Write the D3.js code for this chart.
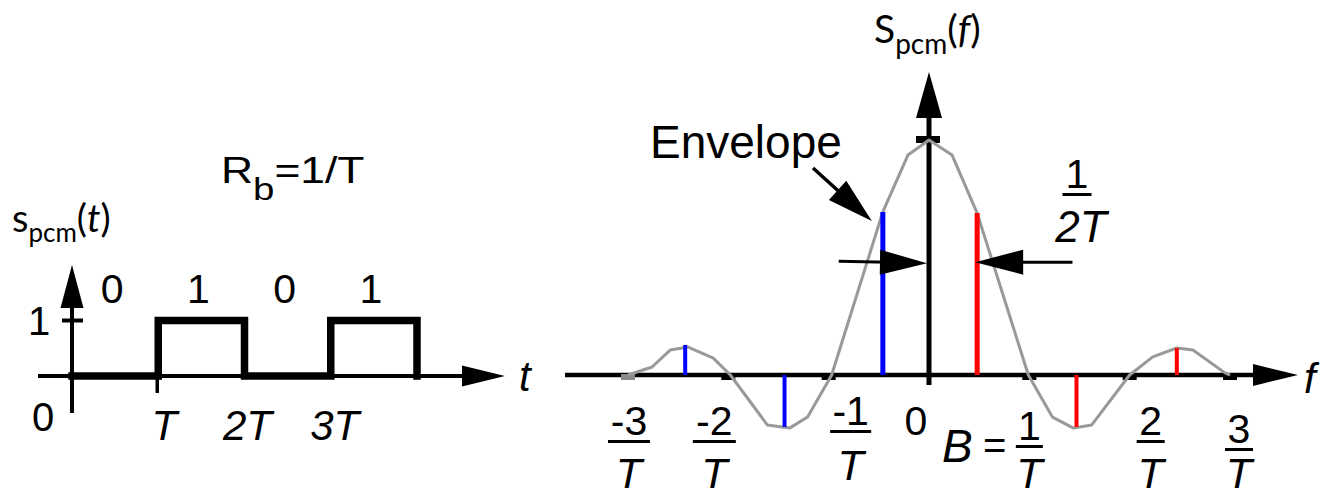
<!DOCTYPE html>
<html>
<head>
<meta charset="utf-8">
<script src="https://cdn.jsdelivr.net/npm/d3@7"></script>
<style>
  html, body { margin: 0; padding: 0; background: #fff; }
  svg { display: block; }
</style>
</head>
<body>
<svg id="chart" width="1320" height="497"></svg>
<script>
// ---- PCM time signal: one bit per interval T ----
const bits = [0, 1, 0, 1];
const bitLabels = ["0", "1", "0", "1"];
const timeTickLabels = ["T", "2T", "3T"];
const levelTickLabels = ["0", "1"];

// ---- Spectrum envelope vertices (frequency in 1/T, amplitude relative to peak) ----
const envFreq = [-3.0, -2.76, -2.58, -2.40, -2.15, -1.98, -1.61, -1.39, -1.21, -0.97, -0.46, -0.21, 0,
                 0.23, 0.48, 0.99, 1.23, 1.44, 1.62, 2.0, 2.23, 2.47, 2.63, 2.95, 3.0];
const envAmp  = [0, 0.034, 0.106, 0.119, 0.072, 0, -0.213, -0.226, -0.179, 0, 0.694, 0.936, 1,
                 0.936, 0.689, 0, -0.179, -0.226, -0.213, 0, 0.077, 0.115, 0.106, 0.009, 0];

// ---- Spectral lines ----
const negLineFreq = [-2.43, -1.44, -0.46];
const negLineAmp  = [0.128, -0.221, 0.694];
const posLineFreq = [0.48, 1.47, 2.47];
const posLineAmp  = [0.689, -0.221, 0.115];

// ---- Frequency axis nulls and labels ----
const nullFreq = [-3, -2, -1, 1, 2, 3];
const freqNumerators = ["-3", "-2", "-1", "1", "2", "3"];

const svg = d3.select("#chart");
const numFont = "'Liberation Sans', Arial, sans-serif";
const calFont = "Lato, 'Open Sans', sans-serif";

function arrowHead(g, tip, dir, len, half) {
  const [tx, ty] = tip;
  const n = Math.hypot(dir[0], dir[1]);
  const ux = dir[0] / n, uy = dir[1] / n;
  const bx = tx - ux * len, by = ty - uy * len;
  const px = -uy, py = ux;
  g.append("path")
    .attr("d", `M${tx},${ty}L${bx + px * half},${by + py * half}L${bx - px * half},${by - py * half}Z`)
    .attr("fill", "#000");
}

// =================== Time-domain panel ===================
const xT = d3.scaleLinear().domain([0, 4]).range([72, 417]);
const yT = d3.scaleLinear().domain([0, 1]).range([376, 320.5]);
const gT = svg.append("g");

// horizontal axis
gT.append("line").attr("x1", 38).attr("x2", 470).attr("y1", yT(0)).attr("y2", yT(0))
  .attr("stroke", "#000").attr("stroke-width", 4);
arrowHead(gT, [505, yT(0)], [1, 0], 43, 10.5);
// vertical axis
gT.append("line").attr("x1", xT(0)).attr("x2", xT(0)).attr("y1", 413).attr("y2", 300)
  .attr("stroke", "#000").attr("stroke-width", 4);
arrowHead(gT, [xT(0), 265], [0, -1], 43, 11.5);
// level tick at 1
gT.append("line").attr("x1", xT(0) - 10).attr("x2", xT(0) + 11).attr("y1", yT(1)).attr("y2", yT(1))
  .attr("stroke", "#000").attr("stroke-width", 4);
// tick at T
gT.append("line").attr("x1", xT(1) - 1).attr("x2", xT(1) - 1).attr("y1", 360).attr("y2", 393)
  .attr("stroke", "#000").attr("stroke-width", 3.5);

// NRZ waveform
const wave = [];
bits.forEach((b, i) => { wave.push([i, b]); wave.push([i + 1, b]); });
wave.push([bits.length, 0]);
gT.append("path")
  .attr("d", d3.line().x(d => xT(d[0])).y(d => yT(d[1]))(wave))
  .attr("fill", "none").attr("stroke", "#000").attr("stroke-width", 7.5)
  .attr("stroke-linejoin", "miter").attr("stroke-linecap", "square");

// bit values above each interval
gT.selectAll("text.bit").data(bitLabels).join("text")
  .attr("x", (d, i) => xT(i + 0.5) - 3).attr("y", 303)
  .attr("text-anchor", "middle").attr("font-family", numFont).attr("font-size", 41)
  .text(d => d);

// level labels
gT.append("text").attr("x", 39).attr("y", 335).attr("text-anchor", "middle")
  .attr("font-family", numFont).attr("font-size", 40).text(levelTickLabels[1]);
gT.append("text").attr("x", 43).attr("y", 431).attr("text-anchor", "middle")
  .attr("font-family", numFont).attr("font-size", 40).text(levelTickLabels[0]);

// time tick labels
gT.selectAll("text.tt").data(timeTickLabels).join("text")
  .attr("x", (d, i) => xT(i + 1) + [6, 3, 4][i]).attr("y", 440)
  .attr("text-anchor", "middle").attr("font-family", numFont).attr("font-style", "italic")
  .attr("font-size", 42).text(d => d);

// axis name t
gT.append("text").attr("x", 519).attr("y", 391).attr("font-family", numFont)
  .attr("font-style", "italic").attr("font-size", 42).text("t");

// s_pcm(t)
const sLab = gT.append("text").attr("x", 12).attr("y", 232).attr("font-family", calFont).attr("font-size", 38);
sLab.append("tspan").text("s");
sLab.append("tspan").attr("font-size", 26).attr("dy", 10).text("pcm");
sLab.append("tspan").attr("dy", -10).text("(");
sLab.append("tspan").attr("font-style", "italic").text("t");
sLab.append("tspan").text(")");

// R_b = 1/T (set in a slightly widened face)
const rLab = gT.append("text").attr("transform", "translate(221,183) scale(1.2,1)")
  .attr("font-family", numFont).attr("font-size", 37);
rLab.append("tspan").text("R");
rLab.append("tspan").attr("font-size", 32).attr("dy", 17).text("b");
rLab.append("tspan").attr("dy", -17).text("=1/T");

// =================== Frequency-domain panel ===================
const xF = d3.scaleLinear().domain([-3, 3]).range([628, 1230]);
const yF = d3.scaleLinear().domain([0, 1]).range([375, 140]);
const gF = svg.append("g");

// horizontal axis
gF.append("line").attr("x1", 565).attr("x2", 1262).attr("y1", yF(0)).attr("y2", yF(0))
  .attr("stroke", "#000").attr("stroke-width", 4.5);
arrowHead(gF, [1298, yF(0)], [1, 0], 45, 11);
// vertical axis
gF.append("line").attr("x1", xF(0)).attr("x2", xF(0)).attr("y1", 385).attr("y2", 110)
  .attr("stroke", "#000").attr("stroke-width", 5);
arrowHead(gF, [xF(0), 72], [0, -1], 46, 13);
// peak tick
gF.append("rect").attr("x", xF(0) - 13).attr("y", yF(1) - 4).attr("width", 24).attr("height", 7).attr("fill", "#000");

// null markers on the axis
gF.selectAll("rect.null").data(nullFreq).join("rect")
  .attr("x", d => xF(d) - 7).attr("y", yF(0) - 1).attr("width", 14).attr("height", 6)
  .attr("fill", d => d === -3 ? "#8a8a8a" : "#000");

// envelope
const envPts = envFreq.map((f, i) => [f, envAmp[i]]);
gF.append("path")
  .attr("d", d3.line().x(d => xF(d[0])).y(d => yF(d[1]))(envPts))
  .attr("fill", "none").attr("stroke", "#999").attr("stroke-width", 3).attr("stroke-linejoin", "round");

// spectral lines
function lines(freqs, amps, color) {
  gF.selectAll(null).data(freqs.map((f, i) => [f, amps[i]])).join("line")
    .attr("x1", d => xF(d[0])).attr("x2", d => xF(d[0]))
    .attr("y1", yF(0)).attr("y2", d => yF(d[1]))
    .attr("stroke", color).attr("stroke-width", d => Math.abs(d[1]) > 0.5 ? 5 : 4);
}
lines(negLineFreq, negLineAmp, "#0000ff");
lines(posLineFreq, posLineAmp, "#ff0000");

// 1/(2T) dimension arrows
const dimY = yF(0.48);
gF.append("line").attr("x1", xF(-0.9)).attr("y1", dimY - 1).attr("x2", xF(-0.4)).attr("y2", dimY)
  .attr("stroke", "#000").attr("stroke-width", 3);
arrowHead(gF, [xF(0) - 2, dimY + 1], [1, 0.02], 47, 12.5);
gF.append("line").attr("x1", xF(1.43)).attr("y1", dimY).attr("x2", xF(0.9)).attr("y2", dimY)
  .attr("stroke", "#000").attr("stroke-width", 3);
arrowHead(gF, [xF(0.48) - 2, dimY], [-1, 0], 48, 12.5);

// envelope pointer
gF.append("line").attr("x1", 813).attr("y1", 168).attr("x2", 845).attr("y2", 197)
  .attr("stroke", "#000").attr("stroke-width", 3.5);
arrowHead(gF, [xF(-0.57), yF(0.655)], [59, 53], 46, 13);
gF.append("text").attr("x", 650).attr("y", 158).attr("font-family", numFont).attr("font-size", 46)
  .text("Envelope");

// S_pcm(f)
const SLab = gF.append("text").attr("x", 874).attr("y", 43).attr("font-family", calFont).attr("font-size", 39);
SLab.append("tspan").text("S");
SLab.append("tspan").attr("font-size", 28).attr("dy", 11).text("pcm");
SLab.append("tspan").attr("dy", -11).text("(");
SLab.append("tspan").attr("font-style", "italic").text("f");
SLab.append("tspan").text(")");

// axis name f
gF.append("text").attr("x", 1304).attr("y", 393).attr("font-family", numFont)
  .attr("font-style", "italic").attr("font-size", 42).text("f");

// fraction labels k/T
function fraction(cx, base, num, barW, denom) {
  const g = gF.append("g");
  g.append("text").attr("x", cx).attr("y", base).attr("text-anchor", "middle")
    .attr("font-family", numFont).attr("font-size", 41).text(num);
  g.append("rect").attr("x", cx - barW / 2).attr("y", base + 5).attr("width", barW).attr("height", 3).attr("fill", "#000");
  if (denom) {
    g.append("text").attr("x", cx).attr("y", Math.min(base + 55, 488)).attr("text-anchor", "middle")
      .attr("font-family", numFont).attr("font-style", "italic").attr("font-size", 43).text(denom);
  }
}
const labelShift = [1, -14, 22, 0, 21, 9];
const labelBase = [435, 435, 425, 440, 435, 443];
const barWidth = [42, 43, 41, 27, 28, 28];
nullFreq.forEach((f, i) => fraction(xF(f) + labelShift[i], labelBase[i], freqNumerators[i], barWidth[i], "T"));

// 0 at origin
gF.append("text").attr("x", xF(0) - 13).attr("y", 435).attr("text-anchor", "middle")
  .attr("font-family", numFont).attr("font-size", 41).text("0");
// B =
gF.append("text").attr("x", 942).attr("y", 462).attr("font-family", numFont)
  .attr("font-style", "italic").attr("font-size", 46).text("B");
gF.append("text").attr("x", 983).attr("y", 459).attr("font-family", numFont)
  .attr("font-size", 40).text("=");

// 1/(2T)
fraction(1077, 188, "1", 29, "");
gF.append("text").attr("x", 1081).attr("y", 242).attr("text-anchor", "middle")
  .attr("font-family", numFont).attr("font-style", "italic").attr("font-size", 44).text("2T");
</script>
</body>
</html>
